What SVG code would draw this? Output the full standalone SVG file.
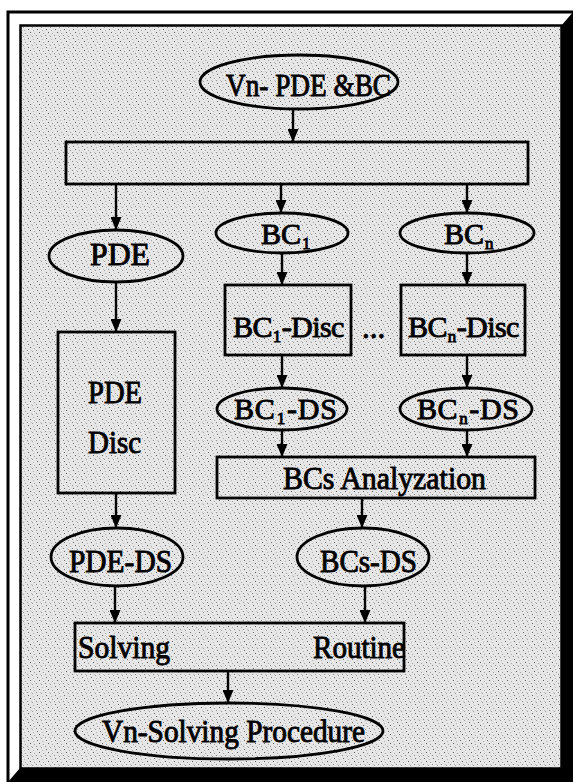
<svg xmlns="http://www.w3.org/2000/svg" width="573" height="782" viewBox="0 0 573 782">
<style>
.sh{fill:url(#stip);stroke:#000;stroke-width:2.8}
.ln{fill:none;stroke:#000;stroke-width:2.4;marker-end:url(#ah)}
.t{font-family:"Liberation Serif","Times New Roman",serif;font-size:31px;fill:#000;stroke:#000;stroke-width:0.9}
.b{font-size:30px}
.sub{font-size:17px}
</style>
<defs>
<pattern id="stip" width="9" height="9" patternUnits="userSpaceOnUse">
<rect width="9" height="9" fill="#e6e6e6"/>
<rect x="1" y="2" width="1" height="1" fill="#6a6a6a"/>
<rect x="5" y="0" width="1" height="1" fill="#9a9a9a"/>
<rect x="3" y="5" width="1" height="1" fill="#5c5c5c"/>
<rect x="7" y="6" width="1" height="1" fill="#a0a0a0"/>
<rect x="0" y="8" width="1" height="1" fill="#888"/>
<rect x="6" y="3" width="1" height="1" fill="#b0b0b0"/>
<rect x="4" y="8" width="1" height="1" fill="#c0c0c0"/>
</pattern>
<marker id="ah" viewBox="0 0 13 11" refX="13" refY="5.5" markerWidth="13" markerHeight="11" markerUnits="userSpaceOnUse" orient="auto">
<path d="M0,0 L13,5.5 L0,11 z" fill="#000"/>
</marker>
</defs>
<rect width="573" height="782" fill="#fff"/>
<g id="frame">
<path d="M8,782 V12 H573" fill="none" stroke="#000" stroke-width="3"/>
<rect x="20.5" y="25.5" width="541" height="743" fill="url(#stip)" stroke="#000" stroke-width="2.5"/>
<polygon points="561,26 573,12 573,782 8,782 20,768 561,768" fill="#000"/>
</g>
<g id="connectors">
<line class="ln" x1="293" y1="109" x2="293" y2="142"/>
<line class="ln" x1="116" y1="184" x2="116" y2="230"/>
<line class="ln" x1="281" y1="184" x2="281" y2="213"/>
<line class="ln" x1="467" y1="184" x2="467" y2="213"/>
<line class="ln" x1="116" y1="282" x2="116" y2="332"/>
<line class="ln" x1="282" y1="253" x2="282" y2="285"/>
<line class="ln" x1="467" y1="253" x2="467" y2="285"/>
<line class="ln" x1="282" y1="355" x2="282" y2="388"/>
<line class="ln" x1="467" y1="355" x2="467" y2="388"/>
<line class="ln" x1="282" y1="430" x2="282" y2="457"/>
<line class="ln" x1="467" y1="430" x2="467" y2="457"/>
<line class="ln" x1="116" y1="493" x2="116" y2="528"/>
<line class="ln" x1="362" y1="498" x2="362" y2="528"/>
<line class="ln" x1="115" y1="587" x2="115" y2="623"/>
<line class="ln" x1="365" y1="587" x2="365" y2="623"/>
<line class="ln" x1="228" y1="671" x2="228" y2="703"/>
</g>
<g id="n-top">
<ellipse class="sh" cx="299" cy="82" rx="99" ry="27"/>
<text class="t" x="226" y="96" textLength="165" lengthAdjust="spacingAndGlyphs">Vn- PDE &amp;BC</text>
</g>
<g id="n-split">
<rect class="sh" x="66" y="142" width="462" height="42"/>
</g>
<g id="n-pde">
<ellipse class="sh" cx="116" cy="256" rx="67" ry="26"/>
<text class="t" x="90" y="265" textLength="60" lengthAdjust="spacingAndGlyphs">PDE</text>
</g>
<g id="n-bc1">
<ellipse class="sh" cx="282" cy="233" rx="66" ry="20"/>
<text class="t b" x="261" y="244">BC<tspan class="sub" dx="1" dy="5">1</tspan></text>
</g>
<g id="n-bcn">
<ellipse class="sh" cx="467" cy="233" rx="67" ry="20"/>
<text class="t b" x="444" y="244">BC<tspan class="sub" dx="1" dy="5">n</tspan></text>
</g>
<g id="n-pdedisc">
<rect class="sh" x="58" y="332" width="117" height="161"/>
<text class="t" x="88" y="403" textLength="54" lengthAdjust="spacingAndGlyphs">PDE</text>
<text class="t" x="88" y="453" textLength="53" lengthAdjust="spacingAndGlyphs">Disc</text>
</g>
<g id="n-bc1disc">
<rect class="sh" x="225" y="285" width="126" height="70"/>
<text class="t b" x="233" y="337" letter-spacing="-0.6">BC<tspan class="sub" dx="1" dy="5">1</tspan><tspan dx="1" dy="-5">-Disc</tspan></text>
</g>
<g id="n-dots">
<text class="t" x="362" y="338">...</text>
</g>
<g id="n-bcndisc">
<rect class="sh" x="401" y="285" width="124" height="70"/>
<text class="t b" x="408" y="337" letter-spacing="-0.6">BC<tspan class="sub" dx="1" dy="5">n</tspan><tspan dx="1" dy="-5">-Disc</tspan></text>
</g>
<g id="n-bc1ds">
<ellipse class="sh" cx="282" cy="409" rx="65" ry="21"/>
<text class="t b" x="234" y="419" letter-spacing="0.8">BC<tspan class="sub" dx="1" dy="5">1</tspan><tspan dx="1" dy="-5">-DS</tspan></text>
</g>
<g id="n-bcnds">
<ellipse class="sh" cx="466" cy="409" rx="66" ry="21"/>
<text class="t b" x="417" y="419" letter-spacing="0.6">BC<tspan class="sub" dx="1" dy="5">n</tspan><tspan dx="1" dy="-5">-DS</tspan></text>
</g>
<g id="n-bcsanalyz">
<rect class="sh" x="217" y="457" width="318" height="41"/>
<text class="t" x="283" y="489" textLength="203" lengthAdjust="spacingAndGlyphs">BCs Analyzation</text>
</g>
<g id="n-pdeds">
<ellipse class="sh" cx="117" cy="557" rx="66" ry="29"/>
<text class="t" x="69" y="572" textLength="103" lengthAdjust="spacingAndGlyphs">PDE-DS</text>
</g>
<g id="n-bcsds">
<ellipse class="sh" cx="363" cy="557" rx="66" ry="29"/>
<text class="t" x="320" y="572" textLength="97" lengthAdjust="spacingAndGlyphs">BCs-DS</text>
</g>
<g id="n-solving">
<rect class="sh" x="75" y="623" width="329" height="48"/>
<text class="t" x="78" y="658" textLength="92" lengthAdjust="spacingAndGlyphs">Solving</text>
<text class="t" x="313" y="658" textLength="92" lengthAdjust="spacingAndGlyphs">Routine</text>
</g>
<g id="n-final">
<ellipse class="sh" cx="229" cy="731" rx="154" ry="28"/>
<text class="t" x="102" y="742" textLength="263" lengthAdjust="spacingAndGlyphs">Vn-Solving Procedure</text>
</g>
</svg>
